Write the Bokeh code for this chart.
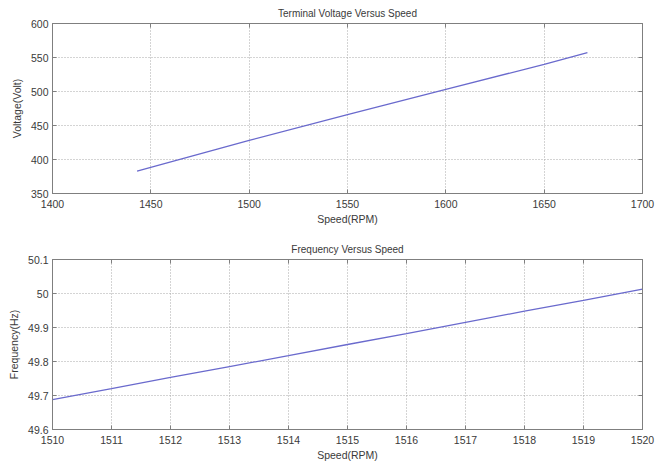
from bokeh.plotting import figure
from bokeh.layouts import column
from bokeh.models import LinearAxis, FixedTicker, Range1d, CustomLabelingPolicy
from bokeh.embed import file_html
from bokeh.resources import INLINE

# Terminal voltage vs speed
speed_v = [1443, 1500, 1550, 1600, 1650, 1672]
voltage = [383, 428, 466, 503, 540, 557]
xticks_v = [1400, 1450, 1500, 1550, 1600, 1650, 1700]
yticks_v = [350, 400, 450, 500, 550, 600]

# Frequency vs speed
speed_f = [1510, 1511, 1512, 1513, 1514, 1515, 1516, 1517, 1518, 1519, 1520]
freq = [49.688, 49.720, 49.753, 49.785, 49.817, 49.850, 49.882, 49.915, 49.948, 49.980, 50.013]
xticks_f = [1510, 1511, 1512, 1513, 1514, 1515, 1516, 1517, 1518, 1519, 1520]
yticks_f = [49.6, 49.7, 49.8, 49.9, 50.0, 50.1]

FONT = "Liberation Sans"
TXT = "#3a3a3a"
FRAME = "#7f7f7f"
LINE = "#6a6acd"

HIDE = """
for (const i of Array.from(indices)) indices.unset(i)
return indices
"""


def style(p, xticks, yticks, xlab, ylab, title_standoff, ylabels=None):
    p.outline_line_color = FRAME
    p.outline_line_width = 1
    p.title.text_font = FONT
    p.title.text_font_size = "10px"
    p.title.text_font_style = "normal"
    p.title.text_color = TXT
    p.title.align = "center"
    p.title.standoff = title_standoff
    for ax in p.xaxis + p.yaxis:
        ax.major_label_text_font = FONT
        ax.major_label_text_font_size = "10.5px"
        ax.major_label_text_color = TXT
        ax.axis_label_text_font = FONT
        ax.axis_label_text_font_size = "10.5px"
        ax.axis_label_text_font_style = "normal"
        ax.axis_label_text_color = TXT
        ax.axis_line_color = FRAME
        ax.major_tick_line_color = FRAME
        ax.major_tick_in = 4
        ax.major_tick_out = 0
        ax.minor_tick_line_color = None
    p.xaxis.major_label_standoff = 6
    p.xaxis.axis_label_standoff = 2
    p.yaxis.major_label_standoff = 4
    p.yaxis.axis_label_standoff = 5
    p.xaxis.ticker = FixedTicker(ticks=xticks)
    p.yaxis.ticker = FixedTicker(ticks=yticks)
    if ylabels:
        p.yaxis.major_label_overrides = ylabels
    p.xaxis.axis_label = xlab
    p.yaxis.axis_label = ylab
    for g in (p.xgrid[0], p.ygrid[0]):
        g.grid_line_color = "#a8a8a8"
        g.grid_line_dash = "1 2"
        g.grid_line_width = 1
    p.xgrid.ticker = FixedTicker(ticks=xticks)
    p.ygrid.ticker = FixedTicker(ticks=yticks)
    # box ticks on top and right (labels hidden)
    for loc, tk in (("above", xticks), ("right", yticks)):
        a = LinearAxis(ticker=FixedTicker(ticks=tk),
                       major_label_policy=CustomLabelingPolicy(code=HIDE))
        a.major_label_text_font_size = "0px"
        a.major_label_standoff = 0
        a.axis_label_standoff = 0
        a.axis_line_color = FRAME
        a.major_tick_line_color = FRAME
        a.major_tick_in = 4
        a.major_tick_out = 0
        a.minor_tick_line_color = None
        p.add_layout(a, loc)


p1 = figure(frame_width=590, frame_height=170, output_backend="svg", toolbar_location=None,
            title="Terminal Voltage Versus Speed",
            x_range=Range1d(1400, 1700), y_range=Range1d(350, 600),
            min_border_left=52, min_border_right=14, min_border_top=0, min_border_bottom=43)
p1.line(speed_v, voltage, line_color=LINE, line_width=1.3)
style(p1, xticks_v, yticks_v, "Speed(RPM)", "Voltage(Volt)", 10)

p2 = figure(frame_width=590, frame_height=170, output_backend="svg", toolbar_location=None,
            title="Frequency Versus Speed",
            x_range=Range1d(1510, 1520), y_range=Range1d(49.6, 50.1),
            min_border_left=52, min_border_right=14, min_border_top=0, min_border_bottom=0)
p2.line(speed_f, freq, line_color=LINE, line_width=1.3)
style(p2, xticks_f, yticks_f, "Speed(RPM)", "Frequency(Hz)", 10,
      ylabels={50.0: "50"})

layout = column(p1, p2, spacing=0)
open("out.html", "w").write(file_html(layout, INLINE))
